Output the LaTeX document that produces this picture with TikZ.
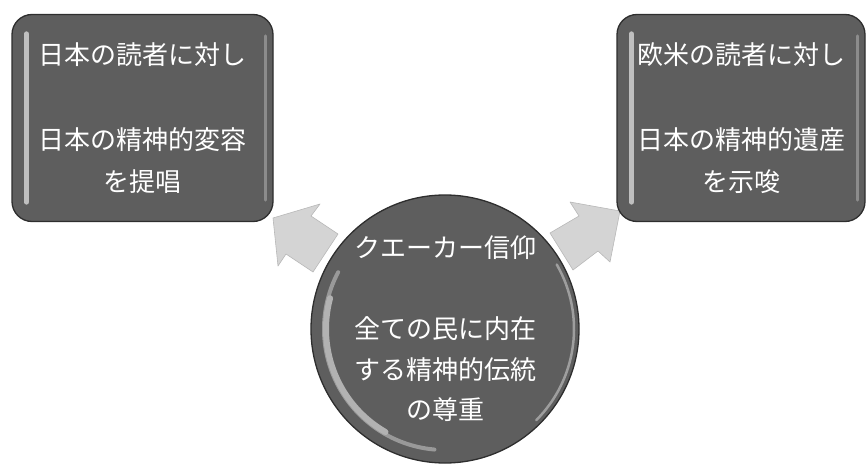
\documentclass[tikz,border=0pt]{standalone}
\usepackage{fontspec}
\newfontfamily\jp{Noto Sans CJK JP}
\usetikzlibrary{calc}
\begin{document}
\begin{tikzpicture}[x=1pt,y=-1pt,
  darkfill/.style={fill=black!63, draw=black!82, line width=1.3pt},
  panel/.style={darkfill, rounded corners=20pt, minimum height=207pt,
    text=white, align=center, inner sep=0pt,
    font=\jp\fontsize{26}{42.5}\selectfont},
  disc/.style={darkfill, circle, minimum size=268pt, inner sep=0pt,
    text=white, align=center, font=\jp\fontsize{26}{40.5}\selectfont},
  blockarrow/.style={fill=black!17, draw=black!28, line width=0.6pt, line join=round},
  gloss/.style={draw=black!22, line cap=round},
]
\useasboundingbox (0,0) rectangle (867,465);

% block arrows (drawn first, beneath the shapes)
\draw[blockarrow] (273,218) -- (320,204) -- (311,216) -- (338,234)
  -- (313,272) -- (286,254) -- (278,266) -- cycle;
\draw[blockarrow] (620,211) -- (610,262) -- (598,251) -- (573,270)
  -- (550,233) -- (579,216) -- (570,202) -- cycle;

% boxes
\node[panel, minimum width=261pt] (L) at (142.5,118)
  {日本の読者に対し\\\mbox{}\\日本の精神的変容\\を提唱};
\node[panel, minimum width=248pt] (R) at (741,118)
  {欧米の読者に対し\\\mbox{}\\日本の精神的遺産\\を示唆};

% circle
\node[disc] (C) at (445,329)
  {クエーカー信仰\\\mbox{}\\全ての民に内在\\する精神的伝統\\の尊重};

% gloss highlights
\draw[gloss, line width=5pt, black!25] ($(L.north west)+(15,20)$) -- ($(L.south west)+(15,-20)$);
\draw[gloss, line width=3pt, black!45] ($(L.north east)+(-8,22)$) -- ($(L.south east)+(-8,-22)$);
\draw[gloss, line width=5pt, black!25] ($(R.north west)+(15,20)$) -- ($(R.south west)+(15,-20)$);
\draw[gloss, line width=3pt, black!45] ($(R.north east)+(-8,22)$) -- ($(R.south east)+(-8,-22)$);
\draw[gloss, line width=4pt, black!40] (C.center) ++(95:121) arc[start angle=95, end angle=208, radius=121];
\draw[gloss, line width=6pt, black!30] (C.center) ++(120:119) arc[start angle=120, end angle=195, radius=119];
\draw[gloss, line width=2.5pt, black!38] (C.center) ++(-30:129) arc[start angle=-30, end angle=45, radius=129];
\end{tikzpicture}
\end{document}
